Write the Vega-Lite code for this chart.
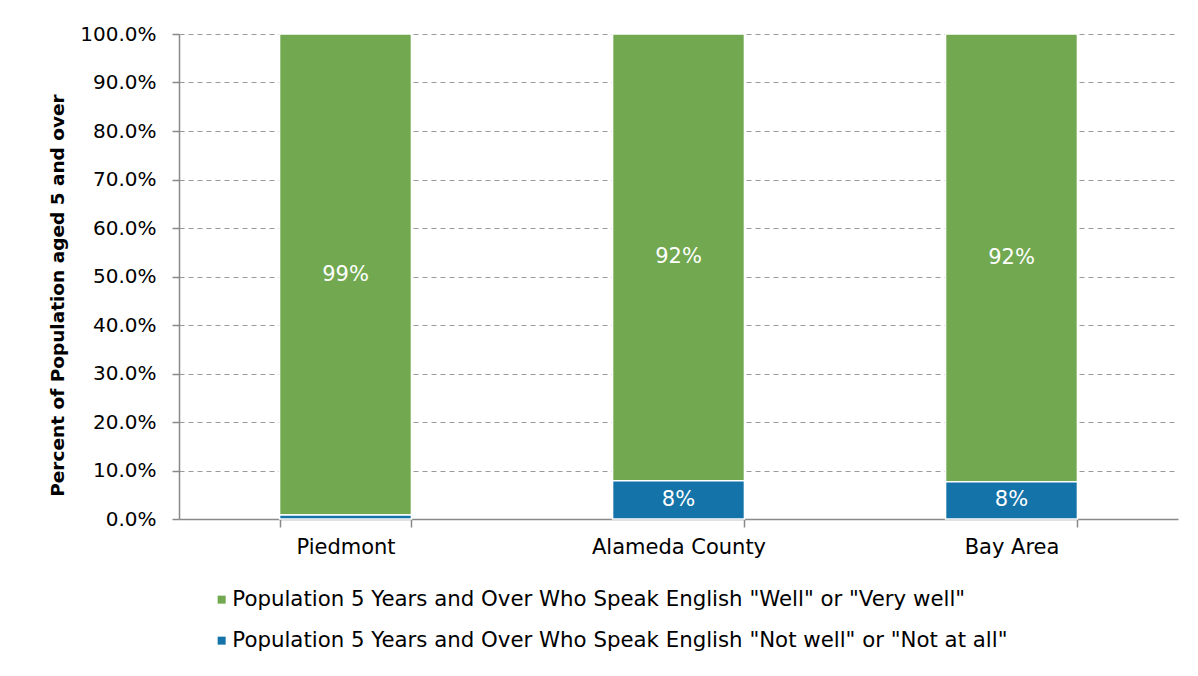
{
  "$schema": "https://vega.github.io/schema/vega-lite/v6.json",
  "width": 999,
  "height": 485,
  "autosize": "none",
  "padding": {"left": 179, "top": 34, "right": 20, "bottom": 157},
  "background": "white",
  "config": {
    "font": "DejaVu Sans",
    "view": {"stroke": null}
  },
  "data": {
    "values": [
      {"region": "Piedmont", "category": "Population 5 Years and Over Who Speak English \"Well\" or \"Very well\"", "value": 0.992, "label": "99%"},
      {"region": "Piedmont", "category": "Population 5 Years and Over Who Speak English \"Not well\" or \"Not at all\"", "value": 0.008, "label": "1%"},
      {"region": "Alameda County", "category": "Population 5 Years and Over Who Speak English \"Well\" or \"Very well\"", "value": 0.921, "label": "92%"},
      {"region": "Alameda County", "category": "Population 5 Years and Over Who Speak English \"Not well\" or \"Not at all\"", "value": 0.079, "label": "8%"},
      {"region": "Bay Area", "category": "Population 5 Years and Over Who Speak English \"Well\" or \"Very well\"", "value": 0.923, "label": "92%"},
      {"region": "Bay Area", "category": "Population 5 Years and Over Who Speak English \"Not well\" or \"Not at all\"", "value": 0.077, "label": "8%"}
    ]
  },
  "transform": [
    {"stack": "value", "groupby": ["region"], "sort": [{"field": "category", "order": "ascending"}], "as": ["y0", "y1"]},
    {"calculate": "(datum.y0 + datum.y1) / 2", "as": "mid"}
  ],
  "encoding": {
    "x": {
      "field": "region",
      "type": "nominal",
      "sort": ["Piedmont", "Alameda County", "Bay Area"],
      "scale": {"paddingInner": 0.604, "paddingOuter": 0.302},
      "axis": {
        "title": null,
        "labelAngle": 0,
        "labelFontSize": 21,
        "labelColor": "#000000",
        "labelPadding": 9,
        "tickBand": "extent",
        "tickSize": 8,
        "tickColor": "#898989",
        "tickWidth": 1.5,
        "domainColor": "#898989",
        "domainWidth": 1.5,
        "grid": false
      }
    }
  },
  "layer": [
    {
      "mark": {"type": "bar", "stroke": "white", "strokeWidth": 1.5},
      "encoding": {
        "y": {
          "field": "y1",
          "type": "quantitative",
          "scale": {"domain": [0, 1]},
          "axis": {
            "values": [0, 0.1, 0.2, 0.3, 0.4, 0.5, 0.6, 0.7, 0.8, 0.9, 1.0],
            "format": ".1%",
            "labelFontSize": 20,
            "labelColor": "#000000",
            "labelPadding": 16,
            "tickSize": 7,
            "tickColor": "#898989",
            "tickWidth": 1.5,
            "domainColor": "#898989",
            "domainWidth": 1.5,
            "grid": true,
            "gridColor": "#9a9a9a",
            "gridDash": [5, 4],
            "gridWidth": 1,
            "title": "Percent of Population aged 5 and over",
            "titleFont": "DejaVu Sans",
            "titleFontSize": 18.5,
            "titleFontWeight": "bold",
            "titleColor": "#000000",
            "titleAngle": -90,
            "titleAlign": "center",
            "titleBaseline": "middle",
            "titleX": -122,
            "titleY": 261
          }
        },
        "y2": {"field": "y0"},
        "color": {
          "field": "category",
          "type": "nominal",
          "scale": {
            "domain": [
              "Population 5 Years and Over Who Speak English \"Well\" or \"Very well\"",
              "Population 5 Years and Over Who Speak English \"Not well\" or \"Not at all\""
            ],
            "range": ["#71A850", "#1473A8"]
          },
          "legend": {
            "title": null,
            "orient": "none",
            "legendX": 32,
            "legendY": 555,
            "direction": "vertical",
            "symbolType": "square",
            "symbolSize": 64,
            "symbolStrokeWidth": 0,
            "labelFontSize": 21.3,
            "labelColor": "#000000",
            "labelOffset": 0,
            "rowPadding": 19,
            "labelLimit": 1000
          }
        }
      }
    },
    {
      "transform": [{"filter": "datum.value > 0.02"}],
      "mark": {"type": "text", "color": "white", "fontSize": 21, "baseline": "middle", "align": "center"},
      "encoding": {
        "y": {"field": "mid", "type": "quantitative"},
        "text": {"field": "label"}
      }
    }
  ]
}
